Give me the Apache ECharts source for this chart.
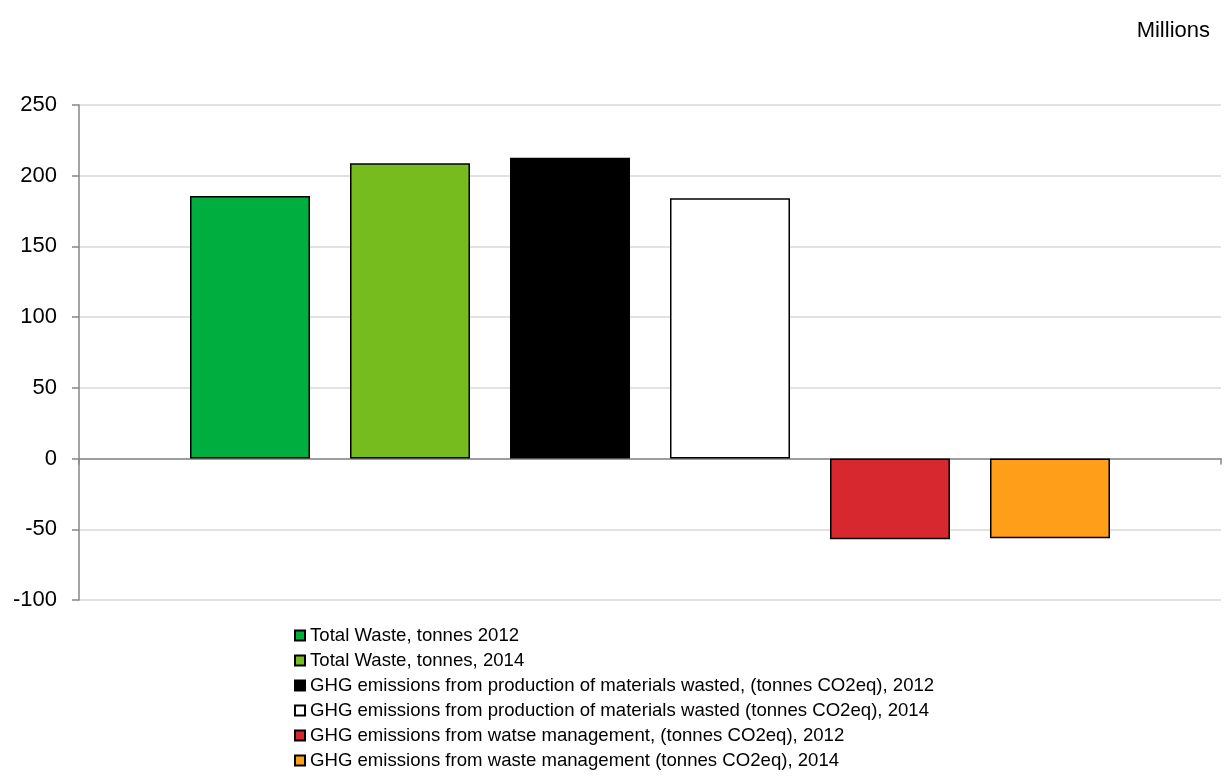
<!DOCTYPE html>
<html>
<head>
<meta charset="utf-8">
<script src="https://cdn.jsdelivr.net/npm/echarts@6/dist/echarts.min.js"></script>
<style>
  html, body { margin: 0; padding: 0; background: #ffffff; }
  #chart { width: 1224px; height: 781px; }
</style>
</head>
<body>
<div id="chart"></div>
<script>
// ---- data ----
var categories = [''];
var seriesNames = [
  'Total Waste, tonnes 2012',
  'Total Waste, tonnes, 2014',
  'GHG emissions from production of materials wasted, (tonnes CO2eq), 2012',
  'GHG emissions from production of materials wasted (tonnes CO2eq), 2014',
  'GHG emissions from watse management, (tonnes CO2eq), 2012',
  'GHG emissions from waste management (tonnes CO2eq), 2014'
];
var totalWaste2012 = [185.6];
var totalWaste2014 = [208.9];
var ghgProduction2012 = [212.7];
var ghgProduction2014 = [184.0];
var ghgManagement2012 = [-57.0];
var ghgManagement2014 = [-56.3];
var yTicks = { min: -100, max: 250, interval: 50 };
var unitLabel = 'Millions';

// ---- styles ----
var colors = ['#00ad3f', '#77bc1f', '#000000', '#ffffff', '#d7282f', '#ff9e18'];
var seriesData = [totalWaste2012, totalWaste2014, ghgProduction2012, ghgProduction2014, ghgManagement2012, ghgManagement2014];
var font = '"Liberation Sans", Arial, sans-serif';

var series = seriesData.map(function (d, i) {
  return {
    name: seriesNames[i],
    type: 'bar',
    data: d,
    barWidth: 120,
    barGap: '33.33%',
    itemStyle: { color: colors[i], borderColor: '#000000', borderWidth: 1.5 }
  };
});

var chart = echarts.init(document.getElementById('chart'), null, { renderer: 'canvas' });
chart.setOption({
  animation: false,
  backgroundColor: '#ffffff',
  textStyle: { fontFamily: font },
  title: {
    text: unitLabel,
    right: 9,
    top: 15,
    textStyle: { fontFamily: font, fontSize: 22, fontWeight: 'normal', color: '#000000' }
  },
  grid: { left: 79, right: 3, top: 105, bottom: 181, containLabel: false },
  legend: {
    orient: 'vertical',
    left: 289,
    top: 621,
    itemWidth: 10,
    itemHeight: 10,
    itemGap: 6,
    icon: 'rect',
    selectedMode: false,
    textStyle: { fontFamily: font, fontSize: 18.6, color: '#000000', lineHeight: 19 },
    data: seriesNames
  },
  xAxis: {
    type: 'category',
    data: categories,
    axisLine: { onZero: true, lineStyle: { color: '#868686', width: 1.5 } },
    axisTick: { show: true, length: 6, lineStyle: { color: '#868686', width: 1.5 } },
    axisLabel: { show: false },
    splitLine: { show: false }
  },
  yAxis: {
    type: 'value',
    min: yTicks.min,
    max: yTicks.max,
    interval: yTicks.interval,
    axisLine: { show: true, lineStyle: { color: '#868686', width: 1.5 } },
    axisTick: { show: true, length: 7, lineStyle: { color: '#868686', width: 1.5 } },
    axisLabel: { margin: 22, fontFamily: font, fontSize: 22, color: '#000000' },
    splitLine: { show: true, lineStyle: { color: '#d9d9d9', width: 1.5 } }
  },
  series: series
});
</script>
</body>
</html>
